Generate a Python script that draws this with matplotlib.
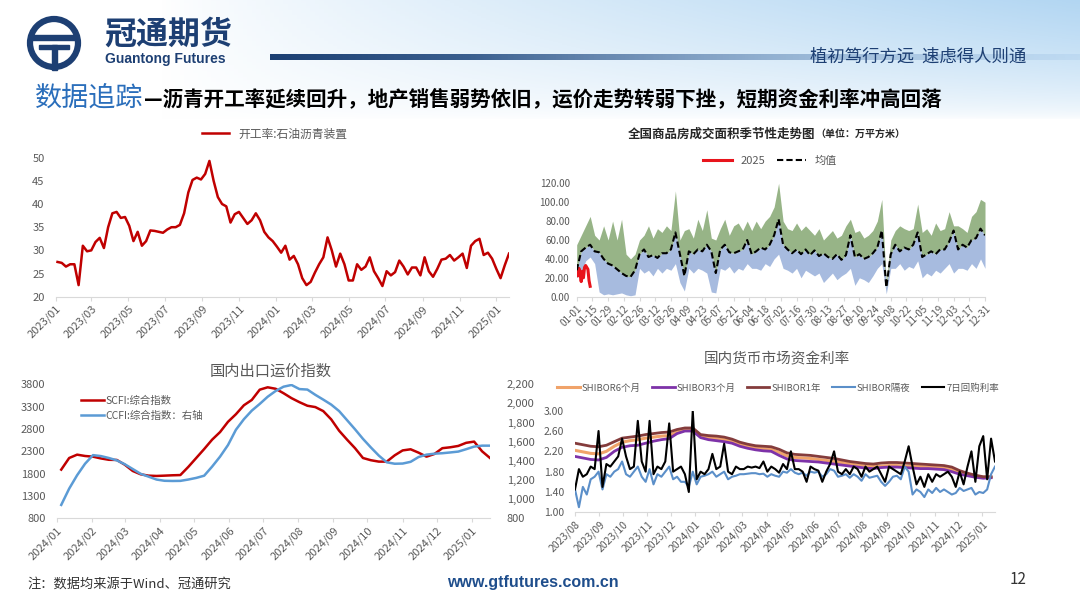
import numpy as np
import pandas as pd
import matplotlib
matplotlib.use("Agg")
import matplotlib.pyplot as plt
import matplotlib.dates as mdates
from matplotlib.patches import Circle, Rectangle
from matplotlib.ticker import FormatStrFormatter, FuncFormatter

plt.rcParams['font.family'] = ['Noto Sans CJK SC', 'DejaVu Sans']
plt.rcParams['axes.unicode_minus'] = False

# ---- data ----
# 开工率:石油沥青装置 (weekly, from 2023-01-04)
asphalt_rate = [27.5, 27.3, 26.5, 27, 27, 22.5, 31, 29.8, 30, 31.8,
                32.7, 30.5, 35, 38, 38.3, 37, 37.2, 35.3, 32, 34,
                31, 32, 34.3, 34.2, 34, 33.8, 34.5, 35, 35, 35.5,
                38, 42.5, 45.2, 45.7, 45.3, 46.5, 49.3, 45, 41.5, 40,
                39.5, 36, 37.8, 38.3, 37, 35.7, 36.5, 38, 36.5, 34,
                32.8, 32, 30.8, 29.5, 31, 28, 28.8, 27, 24, 22.5,
                23.2, 25.2, 27, 28.5, 32.8, 30, 26.5, 29.3, 27, 23.5,
                23.5, 27, 25.8, 26.5, 28.5, 25.5, 24, 22.3, 25.5, 24.6,
                25.3, 27.8, 26.5, 24.8, 26.3, 26.3, 24.6, 28.5, 25.5, 24.3,
                26, 28, 28.2, 29, 27.8, 28.5, 29.3, 26.2, 31, 32,
                32.5, 29, 29.5, 28.2, 26, 24, 26.8, 29.3]

# 商品房成交面积 seasonal (every 4 days of the year)
season_mean = [28, 48, 52, 55, 48, 47, 40, 35, 33, 29,
               25, 22, 21, 28, 45, 50, 42, 44, 41, 46,
               46, 50, 68, 45, 22, 48, 45, 50, 48, 55,
               48, 25, 50, 55, 47, 46, 48, 50, 60, 45,
               48, 52, 50, 55, 65, 82, 55, 50, 46, 50,
               45, 50, 44, 49, 43, 46, 42, 40, 45, 39,
               44, 65, 42, 45, 40, 42, 46, 52, 70, 10,
               45, 55, 48, 52, 50, 55, 68, 42, 45, 48,
               45, 50, 50, 58, 70, 50, 55, 52, 60, 62,
               72, 65]
season_upper = [55, 65, 75, 85, 65, 60, 75, 60, 80, 60,
                82, 45, 40, 45, 60, 65, 75, 62, 72, 68,
                75, 70, 112, 60, 70, 72, 62, 82, 70, 92,
                62, 60, 72, 82, 65, 75, 78, 70, 80, 70,
                80, 72, 80, 85, 95, 120, 80, 72, 70, 78,
                70, 75, 70, 65, 72, 60, 65, 70, 62, 65,
                75, 82, 68, 70, 62, 65, 70, 80, 103, 15,
                60, 70, 75, 72, 70, 72, 98, 68, 72, 65,
                78, 70, 72, 90, 75, 75, 72, 68, 85, 90,
                103, 100]
season_lower = [20, 25, 38, 42, 35, 5, 2, 3, 2, 3,
                4, 2, 1, 2, 30, 25, 28, 22, 30, 25,
                30, 28, 35, 15, 6, 30, 25, 30, 28, 25,
                5, 4, 30, 28, 32, 25, 30, 28, 35, 30,
                30, 28, 35, 32, 40, 45, 30, 28, 25, 30,
                20, 28, 25, 22, 25, 15, 20, 25, 18, 22,
                25, 30, 12, 20, 18, 15, 22, 30, 35, 3,
                30, 30, 35, 28, 32, 30, 38, 20, 25, 22,
                28, 25, 30, 35, 25, 30, 30, 28, 35, 30,
                40, 30]
season_2025 = [28, 22, 30, 24, 16, 27, 20, 31, 33, 31, 29, 17, 11]
season_ticks = ['01-01', '01-15', '01-29', '02-12', '02-26', '03-12', '03-26',
                '04-09', '04-23', '05-07', '05-21', '06-04', '06-18', '07-02',
                '07-16', '07-30', '08-13', '08-27', '09-10', '09-24', '10-08',
                '10-22', '11-05', '11-19', '12-03', '12-17', '12-31']

# 运价指数 (weekly, from 2024-01-05)
scfi = [1890, 2150, 2225, 2195, 2180, 2140, 2110, 2106, 2000, 1860,
        1785, 1755, 1748, 1755, 1763, 1768, 1950, 2150, 2350, 2560,
        2730, 2960, 3130, 3330, 3450, 3680, 3733, 3700, 3600, 3490,
        3400, 3320, 3290, 3200, 3015, 2760, 2560, 2370, 2150, 2100,
        2069, 2069, 2210, 2320, 2345, 2270, 2180, 2240, 2370, 2390,
        2420, 2490, 2517, 2300, 2150]
ccfi = [940, 1110, 1250, 1370, 1460, 1450, 1430, 1405, 1365, 1315,
        1265, 1235, 1205, 1192, 1190, 1191, 1205, 1222, 1245, 1340,
        1444, 1565, 1725, 1835, 1925, 1995, 2070, 2130, 2175, 2193,
        2150, 2145, 2090, 2040, 1988, 1920, 1825, 1730, 1630, 1540,
        1455, 1385, 1370, 1372, 1390, 1440, 1465, 1475, 1480, 1488,
        1497, 1522, 1549, 1559, 1559]

# 资金利率: term SHIBOR every 10 days from 2023-08-01
shibor_6m = [2.22, 2.19, 2.16, 2.15, 2.20, 2.30, 2.38, 2.41, 2.43, 2.46,
             2.48, 2.50, 2.51, 2.58, 2.63, 2.63, 2.50, 2.47, 2.45, 2.43,
             2.40, 2.34, 2.30, 2.27, 2.25, 2.24, 2.18, 2.11, 2.08, 2.07,
             2.06, 2.04, 2.02, 2.00, 1.98, 1.95, 1.93, 1.91, 1.90, 1.91,
             1.92, 1.92, 1.91, 1.90, 1.90, 1.89, 1.88, 1.87, 1.84, 1.78,
             1.74, 1.71, 1.69, 1.69]
shibor_3m = [2.10, 2.07, 2.04, 2.03, 2.08, 2.20, 2.28, 2.31, 2.32, 2.36,
             2.40, 2.43, 2.45, 2.55, 2.60, 2.60, 2.47, 2.43, 2.41, 2.39,
             2.36, 2.30, 2.26, 2.23, 2.21, 2.20, 2.12, 2.05, 2.02, 2.01,
             2.00, 1.99, 1.97, 1.95, 1.93, 1.91, 1.89, 1.87, 1.86, 1.88,
             1.89, 1.89, 1.88, 1.87, 1.86, 1.86, 1.85, 1.84, 1.80, 1.75,
             1.72, 1.69, 1.67, 1.68]
shibor_1y = [2.36, 2.33, 2.30, 2.29, 2.32, 2.39, 2.46, 2.48, 2.50, 2.53,
             2.55, 2.57, 2.58, 2.63, 2.66, 2.66, 2.53, 2.51, 2.50, 2.48,
             2.44, 2.38, 2.34, 2.31, 2.30, 2.29, 2.24, 2.17, 2.14, 2.13,
             2.12, 2.10, 2.08, 2.06, 2.03, 2.00, 1.98, 1.96, 1.95, 1.97,
             1.98, 1.98, 1.97, 1.96, 1.95, 1.94, 1.93, 1.92, 1.89, 1.82,
             1.77, 1.73, 1.70, 1.70]
# overnight and 7-day repo every 5 days from 2023-08-01
shibor_on = [1.45, 1.10, 1.50, 1.35, 1.65, 1.70, 1.80, 1.45, 1.75, 1.70,
             1.80, 1.85, 2.00, 1.75, 1.70, 1.80, 1.90, 1.70, 1.60, 1.85,
             1.55, 1.75, 1.70, 1.80, 1.90, 1.65, 1.70, 1.60, 1.60, 1.50,
             1.80, 1.55, 1.70, 1.72, 1.75, 1.80, 1.70, 1.75, 1.80, 1.65,
             1.70, 1.72, 1.75, 1.75, 1.76, 1.77, 1.77, 1.75, 1.76, 1.70,
             1.75, 1.72, 1.70, 1.80, 1.78, 1.85, 1.78, 1.75, 1.78, 1.72,
             1.80, 1.78, 1.80, 1.70, 1.75, 1.85, 1.82, 1.70, 1.72, 1.75,
             1.68, 1.75, 1.70, 1.62, 1.75, 1.68, 1.70, 1.72, 1.60, 1.52,
             1.60, 1.70, 1.72, 1.65, 1.90, 1.80, 1.35, 1.45, 1.40, 1.30,
             1.45, 1.38, 1.48, 1.40, 1.45, 1.40, 1.35, 1.38, 1.48, 1.42,
             1.45, 1.48, 1.35, 1.40, 1.38, 1.45, 1.75, 1.90]
repo_7d = [1.45, 1.85, 1.70, 1.75, 1.90, 1.85, 2.60, 1.50, 1.95, 1.90,
           2.00, 2.10, 2.45, 2.10, 1.85, 1.90, 2.80, 2.00, 1.80, 2.80,
           1.75, 1.90, 1.85, 2.00, 2.75, 1.80, 1.85, 1.90, 1.75, 1.40,
           3.00, 1.65, 1.80, 1.75, 1.85, 2.15, 1.85, 1.90, 2.35, 1.80,
           1.75, 1.90, 1.85, 1.85, 1.90, 1.88, 1.90, 1.87, 2.00, 1.80,
           1.90, 1.85, 1.78, 1.95, 1.85, 2.20, 1.85, 1.85, 1.80, 1.60,
           1.90, 1.85, 1.82, 1.60, 1.80, 1.95, 2.20, 1.80, 1.75, 1.85,
           1.75, 1.90, 1.85, 1.70, 1.90, 1.80, 1.85, 1.90, 1.75, 1.60,
           1.90, 1.85, 1.80, 1.75, 2.00, 2.30, 1.90, 1.55, 1.70, 1.50,
           1.75, 1.60, 1.75, 1.70, 1.75, 1.80, 1.70, 1.50, 1.80, 1.55,
           1.90, 2.20, 1.60, 2.30, 2.50, 1.65, 2.45, 2.00]

W, H = 1080, 608
NAVY = '#1d3f73'
GRAY = '#595959'

fig = plt.figure(figsize=(W / 100, H / 100), dpi=100)
fig.patch.set_facecolor('white')


def px_axes(l, t, r, b):
    ax = fig.add_axes([l / W, 1 - b / H, (r - l) / W, (b - t) / H])
    ax.set_facecolor('none')
    return ax


def style(ax, fs=8):
    for s in ['top', 'right', 'left']:
        ax.spines[s].set_visible(False)
    ax.spines['bottom'].set_color('#d9d9d9')
    ax.tick_params(axis='y', length=0, pad=8, labelsize=fs, labelcolor=GRAY)
    ax.tick_params(axis='x', length=3, color='#d9d9d9', pad=2, labelsize=fs, labelcolor=GRAY)
    for lab in ax.get_xticklabels():
        lab.set_rotation(45)
        lab.set_ha('right')
        lab.set_rotation_mode('anchor')


# ---- header ----
bg = fig.add_axes([0, 0, 1, 1])
bg.set_xlim(0, W)
bg.set_ylim(H, 0)
bg.axis('off')
bg.set_zorder(-1)
gy, gx = np.mgrid[0:1:120j, 0:1:240j]
wgt = np.clip((gx - 0.15) / 0.85, 0, 1) ** 0.8 * np.clip(1 - gy, 0, 1) ** 0.6
sky = np.array([0.70, 0.84, 0.95])
img = (1 - wgt[..., None]) * 1.0 + wgt[..., None] * sky
bg.imshow(img, extent=(0, W, 120, 0), aspect='auto', zorder=0)

t = np.linspace(0, 1, 300)
c0 = np.array([0.11, 0.25, 0.45])
c1 = np.array([0.60, 0.75, 0.90])
bar = c0 * (1 - t[:, None]) + c1 * t[:, None]
alpha = np.clip(1.25 - t, 0, 1)
bar_img = np.concatenate([bar, alpha[:, None]], axis=1)[None, :, :]
bg.imshow(bar_img, extent=(270, 1080, 60, 54), aspect='auto', zorder=1)

bg.add_patch(Circle((54, 43), 24, fill=False, lw=4.5, ec=NAVY, zorder=2))
bg.add_patch(Rectangle((31, 35), 46, 5, color=NAVY, zorder=2))
bg.add_patch(Rectangle((39, 45), 30, 4, color=NAVY, zorder=2))
bg.add_patch(Rectangle((51.5, 45), 5, 25, color=NAVY, zorder=2))

bg.text(104, 34.5, '冠通期货', fontsize=23, fontweight='bold', color=NAVY, va='center', zorder=3)
bg.text(105, 59.5, 'Guantong Futures', fontsize=10, fontweight='bold', color=NAVY,
        va='center', family=['Liberation Sans', 'DejaVu Sans'], zorder=3)
bg.text(810, 57, '植初笃行方远  速虑得人则通', fontsize=12.5, color=NAVY, va='center', zorder=3)

bg.text(35, 98, '数据追踪', fontsize=19.5, color='#2a6ebb', va='center', zorder=3)
bg.text(144, 99, '—沥青开工率延续回升，地产销售弱势依旧，运价走势转弱下挫，短期资金利率冲高回落',
        fontsize=14.8, color='black', va='center', fontweight='bold', zorder=3)

# footer
bg.text(27, 584, '注：数据均来源于Wind、冠通研究', fontsize=9.5, color='#333333', va='center')
bg.text(447, 583, 'www.gtfutures.com.cn', fontsize=11.5, fontweight='bold', color='#1f4e8c',
        va='center', family=['Liberation Sans', 'DejaVu Sans'])
bg.text(1010, 580, '12', fontsize=11, color='#333333', va='center')

# ---- chart 1: 沥青开工率 ----
d1 = pd.date_range('2023-01-04', periods=len(asphalt_rate), freq='7D')
ax1 = px_axes(55.7, 157.7, 509, 296.7)
ax1.plot(d1, asphalt_rate, color='#c00000', lw=1.8, label='开工率:石油沥青装置')
ax1.set_ylim(20, 50)
ax1.set_yticks(range(20, 51, 5))
ax1.set_xlim(pd.Timestamp('2023-01-01'), d1[-1])
ax1.set_xticks(pd.date_range('2023-01-01', '2025-01-01', freq='2MS'))
ax1.xaxis.set_major_formatter(mdates.DateFormatter('%Y/%m'))
style(ax1, 8)
ax1.legend(loc='center', bbox_to_anchor=(275 / W, 1 - 134 / H), bbox_transform=fig.transFigure,
           frameon=False, fontsize=8.5, handlelength=2.3, labelcolor=GRAY)

# ---- chart 2: 商品房成交面积季节性 ----
days = np.arange(0, 365, 4)
ax2 = px_axes(576.7, 183.3, 985, 296.7)
ax2.fill_between(days, season_lower, season_mean, color='#a7bbdf', lw=0)
ax2.fill_between(days, season_mean, season_upper, color='#97b487', lw=0)
ax2.plot(np.arange(len(season_2025)), season_2025, color='#e8141c', lw=2.2, label='2025')
ax2.plot(days, season_mean, color='black', lw=1.5, ls=(0, (3, 1.5)), label='均值')
ax2.set_xlim(0, 364)
ax2.set_ylim(0, 120)
ax2.set_yticks(range(0, 121, 20))
ax2.yaxis.set_major_formatter(FormatStrFormatter('%.2f'))
ax2.set_xticks(np.arange(0, 365, 14))
ax2.set_xticklabels(season_ticks)
style(ax2, 7)
ax2.tick_params(axis='y', pad=5)
ax2.legend(loc='center', bbox_to_anchor=(770 / W, 1 - 161 / H), bbox_transform=fig.transFigure,
           ncol=2, frameon=False, fontsize=8, handlelength=2.6, columnspacing=1.0, labelcolor=GRAY)
bg.text(815, 134, '全国商品房成交面积季节性走势图', fontsize=9, fontweight='bold',
        color='#262626', va='center', ha='right')
bg.text(815, 134, '（单位：万平方米）', fontsize=7.2, fontweight='bold',
        color='#262626', va='center', ha='left')

# ---- chart 3: 运价指数 ----
d3 = pd.date_range('2024-01-05', periods=len(scfi), freq='7D')
ax3 = px_axes(56.7, 384.3, 490, 518.3)
ax3b = ax3.twinx()
ax3b.set_facecolor('none')
l1, = ax3.plot(d3, scfi, color='#c00000', lw=1.8, label='SCFI:综合指数')
l2, = ax3b.plot(d3, ccfi, color='#5b9bd5', lw=1.8, label='CCFI:综合指数：右轴')
ax3.set_ylim(800, 3800)
ax3.set_yticks(range(800, 3801, 500))
ax3b.set_ylim(800, 2200)
ax3b.set_yticks(range(800, 2201, 200))
ax3b.yaxis.set_major_formatter(FuncFormatter(lambda v, p: f'{v:,.0f}'))
ax3.set_xlim(pd.Timestamp('2024-01-01'), d3[-1])
ax3.set_xticks(pd.date_range('2024-01-01', '2025-01-01', freq='MS'))
ax3.xaxis.set_major_formatter(mdates.DateFormatter('%Y/%m'))
style(ax3, 8)
for s in ['top', 'right', 'left', 'bottom']:
    ax3b.spines[s].set_visible(False)
ax3b.tick_params(axis='y', length=0, pad=12, labelsize=8, labelcolor=GRAY)
ax3.legend([l1, l2], [l1.get_label(), l2.get_label()], loc='upper left',
           bbox_to_anchor=(72 / W, 1 - 386 / H), bbox_transform=fig.transFigure,
           frameon=False, fontsize=7.5, handlelength=2.2, handletextpad=0.1,
           labelspacing=0.5, labelcolor=GRAY)
bg.text(271, 371, '国内出口运价指数', fontsize=11, color=GRAY, va='center', ha='center')

# ---- chart 4: 资金利率 ----
d4a = pd.date_range('2023-08-01', periods=len(shibor_1y), freq='10D')
d4b = pd.date_range('2023-08-01', periods=len(repo_7d), freq='5D')
ax4 = px_axes(575, 410.7, 995, 512.3)
ax4.plot(d4a, shibor_6m, color='#f0a36a', lw=2.2, label='SHIBOR6个月')
ax4.plot(d4a, shibor_3m, color='#7d32a8', lw=2.0, label='SHIBOR3个月')
ax4.plot(d4a, shibor_1y, color='#843c3c', lw=2.0, label='SHIBOR1年')
ax4.plot(d4b, shibor_on, color='#5b8fc9', lw=1.5, label='SHIBOR隔夜')
ax4.plot(d4b, repo_7d, color='black', lw=1.5, label='7日回购利率')
ax4.set_ylim(1.0, 3.0)
ax4.set_yticks(np.arange(1.0, 3.01, 0.4))
ax4.yaxis.set_major_formatter(FormatStrFormatter('%.2f'))
ax4.set_xlim(pd.Timestamp('2023-08-01'), d4b[-1])
ax4.set_xticks(pd.date_range('2023-08-01', '2025-01-01', freq='MS'))
ax4.xaxis.set_major_formatter(mdates.DateFormatter('%Y/%m'))
style(ax4, 7.5)
ax4.legend(loc='center', bbox_to_anchor=(778 / W, 1 - 388 / H), bbox_transform=fig.transFigure,
           ncol=5, frameon=False, fontsize=6.8, handlelength=2.4, handletextpad=0.2,
           columnspacing=1.2, labelcolor=GRAY)
bg.text(777, 359, '国内货币市场资金利率', fontsize=10.5, color=GRAY, va='center', ha='center')

fig.savefig('out.png', dpi=100)
